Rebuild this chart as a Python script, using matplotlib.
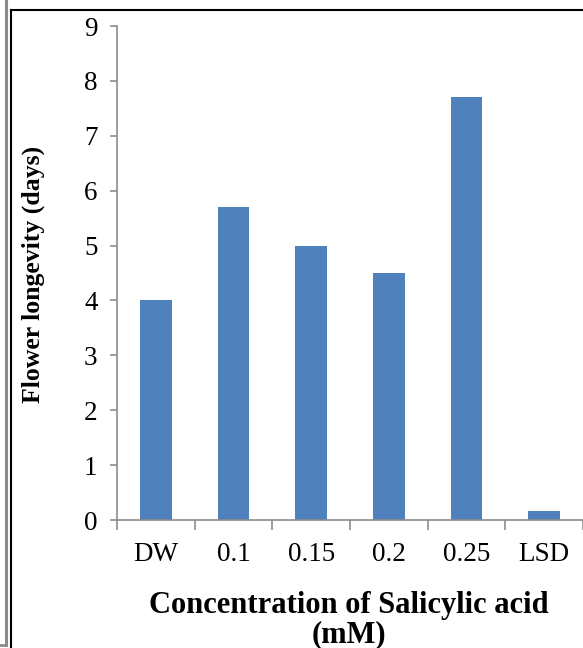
import matplotlib
matplotlib.use("Agg")
import matplotlib.pyplot as plt
from matplotlib.lines import Line2D
import numpy as np

categories = ["DW", "0.1", "0.15", "0.2", "0.25", "LSD"]
values = [4.0, 5.7, 5.0, 4.5, 7.7, 0.17]
yticks = [0, 1, 2, 3, 4, 5, 6, 7, 8, 9]

W, H = 583, 648
fig = plt.figure(figsize=(W/100, H/100), dpi=100)
plt.rcParams['font.family'] = ['Liberation Serif']

ax = fig.add_axes([117/W, (H-520)/H, (583-117)/W, (520-26)/H])
x = np.arange(len(categories))
ax.bar(x, values, width=0.41, color="#4F81BD", zorder=2)
ax.set_xlim(-0.5, 5.5)
ax.set_ylim(0, 9)
ax.set_yticks(yticks)
ax.set_yticklabels([str(v) for v in yticks], fontsize=19.5)
ax.set_xticks(x)
ax.set_xticklabels(categories, fontsize=19.5)
ax.set_xticks(np.arange(-0.5, 6.0, 1.0), minor=True)
for s in ["top", "right"]:
    ax.spines[s].set_visible(False)
for s in ["left", "bottom"]:
    ax.spines[s].set_color("#8c8c8c")
    ax.spines[s].set_linewidth(1.2)
ax.tick_params(axis="y", which="major", length=5, color="#8c8c8c", width=1.2, pad=9)
ax.tick_params(axis="x", which="major", length=0, pad=16)
ax.tick_params(axis="x", which="minor", length=7, color="#8c8c8c", width=1.2)

fig.text(33/W, 1-274/H, "Flower longevity (days)", fontsize=18.5, fontweight="bold",
         rotation=90, ha="center", va="center")
fig.text(349/W, 1-606/H, "Concentration of Salicylic acid", fontsize=22, fontweight="bold",
         ha="center", va="center")
fig.text(349/W, 1-635/H, "(mM)", fontsize=22, fontweight="bold", ha="center", va="center")

# frame lines
fig.add_artist(Line2D([6/W, 6/W], [1, 1-645/H], color="#8c8c8c", lw=2.2, transform=fig.transFigure))
fig.add_artist(Line2D([0, 6/W], [1-645/H, 1-645/H], color="#8c8c8c", lw=2, transform=fig.transFigure))
fig.add_artist(Line2D([11/W, 11/W], [1-10/H, 0], color="black", lw=1.5, transform=fig.transFigure))
fig.add_artist(Line2D([11/W, 1], [1-10/H, 1-10/H], color="black", lw=1.5, transform=fig.transFigure))

fig.savefig("out.png", dpi=100)
